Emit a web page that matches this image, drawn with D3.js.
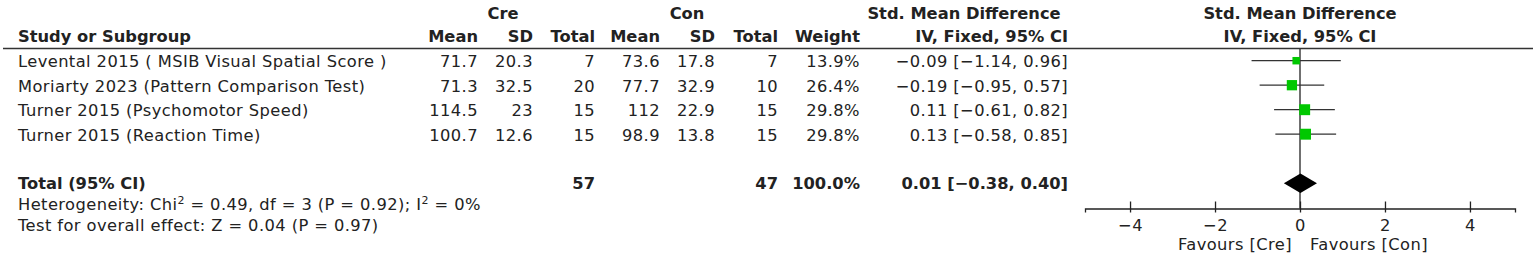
<!DOCTYPE html>
<html>
<head>
<meta charset="utf-8">
<script src="https://cdn.jsdelivr.net/npm/d3@7"></script>
<style>
  body { margin: 0; background: #fff; }
  text { font-family: "DejaVu Sans", sans-serif; font-size: 16.3px; fill: #222; letter-spacing: 0.42px; }
  .bold { font-weight: bold; letter-spacing: 0; }
</style>
</head>
<body>
<div id="chart"></div>
<script>
var studies = [
  "Levental 2015 ( MSIB Visual Spatial Score )",
  "Moriarty 2023 (Pattern Comparison Test)",
  "Turner 2015 (Psychomotor Speed)",
  "Turner 2015 (Reaction Time)"
];
var creMean = [71.7, 71.3, 114.5, 100.7];
var creSD = [20.3, 32.5, 23, 12.6];
var creN = [7, 20, 15, 15];
var conMean = [73.6, 77.7, 112, 98.9];
var conSD = [17.8, 32.9, 22.9, 13.8];
var conN = [7, 10, 15, 15];
var weights = [13.9, 26.4, 29.8, 29.8];
var smd = [-0.09, -0.19, 0.11, 0.13];
var ciLow = [-1.14, -0.95, -0.61, -0.58];
var ciHigh = [0.96, 0.57, 0.82, 0.85];
var total = { creN: 57, conN: 47, weight: 100.0, smd: 0.01, lo: -0.38, hi: 0.40 };
var axisTicks = [-4, -2, 0, 2, 4];

var width = 1535, height = 258;

var svg = d3.select("#chart").append("svg")
    .attr("width", width)
    .attr("height", height);

svg.append("rect").attr("width", width).attr("height", height).attr("fill", "#fff");

// row index -> centre y
var y = d3.scaleLinear().domain([0, 1]).range([60.7, 85.2]);
var x = d3.scaleLinear().domain([-5.06, 5.06]).range([1085, 1515]);

var minus = function (v) { return v.toString().replace("-", "\u2212"); };
var f2 = function (v) { return minus(d3.format(".2f")(v)); };
var ciText = function (m, l, h) { return f2(m) + " [" + f2(l) + ", " + f2(h) + "]"; };

// column right edges
var cols = [
  { x: 478, head: "Mean", vals: creMean },
  { x: 533, head: "SD", vals: creSD },
  { x: 595, head: "Total", vals: creN },
  { x: 660, head: "Mean", vals: conMean },
  { x: 715, head: "SD", vals: conSD },
  { x: 778, head: "Total", vals: conN },
  { x: 860, head: "Weight", vals: weights.map(function (w) { return d3.format(".1f")(w) + "%"; }) },
  { x: 1068, head: "IV, Fixed, 95% CI", vals: smd.map(function (m, i) { return ciText(m, ciLow[i], ciHigh[i]); }) }
];

// header
var head = svg.append("g").attr("class", "header");
head.append("text").attr("class", "bold").attr("x", 503).attr("y", 19).attr("text-anchor", "middle").text("Cre");
head.append("text").attr("class", "bold").attr("x", 687).attr("y", 19).attr("text-anchor", "middle").text("Con");
head.append("text").attr("class", "bold").attr("x", 964).attr("y", 19).attr("text-anchor", "middle").text("Std. Mean Difference");
head.append("text").attr("class", "bold").attr("x", x(0)).attr("y", 19).attr("text-anchor", "middle").text("Std. Mean Difference");
head.append("text").attr("class", "bold").attr("x", x(0)).attr("y", 42).attr("text-anchor", "middle").text("IV, Fixed, 95% CI");
head.append("text").attr("class", "bold").attr("x", 18).attr("y", 42).text("Study or Subgroup");
head.selectAll(".colhead")
    .data(cols)
    .enter()
    .append("text")
    .attr("class", "bold colhead")
    .attr("x", function (d) { return d.x; })
    .attr("y", 42)
    .attr("text-anchor", "end")
    .text(function (d) { return d.head; });

svg.append("line")
    .attr("x1", 3).attr("x2", 1533)
    .attr("y1", 48.5).attr("y2", 48.5)
    .attr("stroke", "#333")
    .attr("stroke-width", 1.6);

// study rows
var rows = svg.selectAll(".row")
    .data(studies)
    .enter()
    .append("g")
    .attr("class", "row");

rows.append("text")
    .attr("x", 18)
    .attr("y", function (d, i) { return y(i) + 6.5; })
    .text(function (d) { return d; });

cols.forEach(function (c) {
  rows.append("text")
      .attr("x", c.x)
      .attr("y", function (d, i) { return y(i) + 6.5; })
      .attr("text-anchor", "end")
      .text(function (d, i) { return c.vals[i]; });
});

// total row
var ty = y(5);
var tot = svg.append("g").attr("class", "total");
tot.append("text").attr("class", "bold").attr("x", 18).attr("y", ty + 6).text("Total (95% CI)");
tot.append("text").attr("class", "bold").attr("x", cols[2].x).attr("y", ty + 6).attr("text-anchor", "end").text(total.creN);
tot.append("text").attr("class", "bold").attr("x", cols[5].x).attr("y", ty + 6).attr("text-anchor", "end").text(total.conN);
tot.append("text").attr("class", "bold").attr("x", cols[6].x).attr("y", ty + 6).attr("text-anchor", "end").text(d3.format(".1f")(total.weight) + "%");
tot.append("text").attr("class", "bold").attr("x", cols[7].x).attr("y", ty + 6).attr("text-anchor", "end").text(ciText(total.smd, total.lo, total.hi));

var het = svg.append("text").attr("x", 18).attr("y", 210);
het.append("tspan").text("Heterogeneity: Chi");
het.append("tspan").attr("baseline-shift", "super").style("font-size", "11px").text("2");
het.append("tspan").text(" = 0.49, df = 3 (P = 0.92); I");
het.append("tspan").attr("baseline-shift", "super").style("font-size", "11px").text("2");
het.append("tspan").text(" = 0%");

svg.append("text").attr("x", 18).attr("y", 231).text("Test for overall effect: Z = 0.04 (P = 0.97)");

// forest plot
var axisY = 208.5;

svg.append("line")
    .attr("x1", x(0)).attr("x2", x(0))
    .attr("y1", 49).attr("y2", axisY)
    .attr("stroke", "#222")
    .attr("stroke-width", 1.3);

var plotRows = svg.selectAll(".ci")
    .data(smd)
    .enter()
    .append("g")
    .attr("class", "ci");

plotRows.append("line")
    .attr("x1", function (d, i) { return x(ciLow[i]); })
    .attr("x2", function (d, i) { return x(ciHigh[i]); })
    .attr("y1", function (d, i) { return y(i); })
    .attr("y2", function (d, i) { return y(i); })
    .attr("stroke", "#333")
    .attr("stroke-width", 1.3);

plotRows.append("rect")
    .attr("x", function (d, i) { return x(d) - Math.sqrt(weights[i]); })
    .attr("y", function (d, i) { return y(i) - Math.sqrt(weights[i]); })
    .attr("width", function (d, i) { return 2 * Math.sqrt(weights[i]); })
    .attr("height", function (d, i) { return 2 * Math.sqrt(weights[i]); })
    .attr("fill", "#00c800");

svg.append("path")
    .attr("d", d3.line()([
      [x(total.lo), ty],
      [x(total.smd), ty - 9.7],
      [x(total.hi), ty],
      [x(total.smd), ty + 9.7]
    ]) + "Z")
    .attr("fill", "#000");

var axis = d3.axisBottom(x)
    .tickValues(axisTicks)
    .tickSizeOuter(0)
    .tickSize(4)
    .tickPadding(7)
    .tickFormat(function (d) { return minus(d); });

var ax = svg.append("g")
    .attr("transform", "translate(0," + axisY + ")")
    .call(axis);
ax.select(".domain").attr("stroke", "#222").attr("stroke-width", 1.3);
ax.selectAll(".tick line").attr("y1", -7).attr("y2", 4).attr("stroke", "#222").attr("stroke-width", 1.3);
ax.selectAll(".tick text")
    .attr("font-family", null)
    .attr("font-size", null)
    .attr("fill", null);

svg.append("text").attr("x", 1292).attr("y", 250).attr("text-anchor", "end").text("Favours [Cre]");
svg.append("text").attr("x", 1310).attr("y", 250).text("Favours [Con]");
</script>
</body>
</html>
